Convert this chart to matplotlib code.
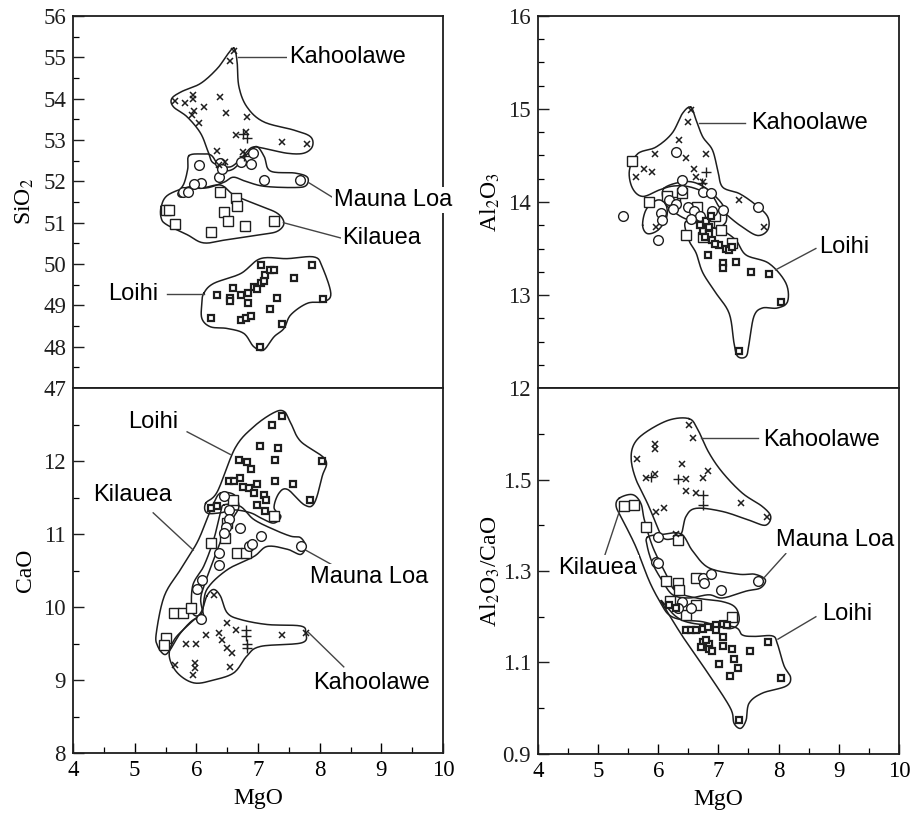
import numpy as np
import matplotlib
matplotlib.use("Agg")
import matplotlib.pyplot as plt
from matplotlib.ticker import MultipleLocator, FixedLocator

plt.rcParams['mathtext.fontset'] = 'stix'

# ---------------- DATA (MgO, oxide) ----------------
# Panel 1: SiO2 vs MgO
sio2_kah_x = [(6.61,55.15),(6.55,54.9),(5.65,53.95),(5.81,53.9),(5.95,54.1),(5.95,54.0),(5.96,53.7),
              (5.93,53.6),(6.13,53.8),(6.05,53.4),(6.39,54.03),(6.48,53.65),(6.82,53.55),(6.64,53.12),
              (6.8,53.2),(7.39,52.96),(7.8,52.9),(6.33,52.74),(6.47,52.47),(6.76,52.7),(6.36,52.4)]
sio2_kah_plus = [(6.82,53.05),(6.75,53.15),(6.78,52.62)]
sio2_ml = [(6.04,52.4),(6.39,52.44),(6.36,52.11),(6.72,52.47),(6.88,52.43),(6.92,52.68),(7.1,52.03),
           (7.68,52.03),(6.07,51.97),(5.96,51.93),(5.78,51.75),(5.87,51.75),(6.42,52.3)]
sio2_kil = [(5.5,51.3),(5.55,51.3),(5.65,50.97),(6.23,50.78),(6.39,51.73),(6.45,51.25),(6.51,51.03),
            (6.65,51.6),(6.66,51.4),(6.79,50.92),(7.26,51.05)]
sio2_loihi = [(6.33,49.25),(6.23,48.7),(6.55,49.17),(6.6,49.43),(6.72,49.25),(6.84,49.29),(6.84,49.06),
              (6.93,49.45),(7.04,49.53),(7.1,49.6),(7.12,49.73),(7.05,49.97),(7.19,49.85),(7.26,49.85),
              (6.72,48.65),(6.8,48.7),(6.88,48.75),(7.3,49.18),(7.2,48.9),(7.39,48.56),(7.03,48.0),
              (7.58,49.67),(7.87,49.98),(8.06,49.15),(6.98,49.4),(6.54,49.1)]
sio2_fields = {
    'Kahoolawe': [(6.61,55.22),(6.66,54.9),(6.69,54.29),(6.82,53.8),(7.09,53.44),(7.58,53.24),(7.85,53.08),
                  (7.88,52.84),(7.74,52.68),(7.47,52.68),(7.09,52.8),(6.9,52.82),(6.75,52.6),(6.55,52.35),
                  (6.28,52.44),(6.2,52.68),(6.07,53.16),(5.85,53.56),(5.63,53.8),(5.6,54.0),(5.76,54.17),
                  (6.07,54.37),(6.34,54.73),(6.5,55.06)],
    'Mauna Loa': [(5.88,52.62),(6.1,52.66),(6.25,52.62),(6.4,52.3),(6.6,52.3),(6.85,52.7),(6.98,52.84),
                  (7.1,52.6),(7.2,52.25),(7.6,52.2),(7.8,52.1),(7.78,51.9),(7.6,51.85),(7.1,51.88),
                  (6.8,52.0),(6.6,52.1),(6.45,51.98),(6.2,51.85),(5.95,51.82),(5.78,51.62),(5.7,51.7),
                  (5.8,51.95),(5.86,52.3)],
    'Kilauea': [(5.43,51.39),(5.54,51.67),(5.89,51.87),(6.07,51.83),(6.39,51.91),(6.61,51.67),(6.99,51.43),
                (7.31,51.23),(7.42,50.99),(7.31,50.79),(7.04,50.71),(6.5,50.59),(6.12,50.51),(5.85,50.71),
                (5.52,50.95),(5.43,51.11)],
    'Loihi': [(6.12,49.29),(6.28,49.53),(6.72,49.77),(7.04,50.13),(7.47,50.13),(7.91,50.17),(8.04,49.93),
              (8.18,49.29),(8.07,49.09),(7.8,49.05),(7.53,48.77),(7.42,48.44),(7.26,48.24),(7.09,47.92),
              (6.93,48.0),(6.77,48.32),(6.5,48.44),(6.23,48.48),(6.09,48.68),(6.09,49.05)],
}
sio2_labels = [("Kahoolawe", (7.5,55.0), (6.68,55.0), (7.45,55.0), 'left'),
               ("Mauna Loa", (8.23,51.55), (7.82,51.97), (8.2,51.62), 'left'),
               ("Kilauea", (8.37,50.63), (7.41,51.0), (8.34,50.63), 'left'),
               ("Loihi", (5.38,49.28), (5.53,49.27), (6.12,49.27), 'right')]

# Panel 2: CaO vs MgO
cao_loihi = [(7.39,12.61),(7.23,12.5),(7.03,12.2),(7.32,12.18),(7.27,12.02),(8.04,12.0),(6.69,12.01),
             (6.82,11.98),(6.89,11.89),(6.71,11.77),(6.75,11.65),(6.53,11.72),(6.61,11.72),(6.85,11.63),
             (6.99,11.68),(6.93,11.56),(7.27,11.72),(7.57,11.68),(7.09,11.54),(7.13,11.47),(6.99,11.4),
             (7.11,11.31),(7.85,11.46),(6.23,11.36),(6.34,11.38)]
cao_kil = [(7.26,11.24),(6.23,10.87),(6.66,10.74),(6.8,10.74),(5.63,9.92),(5.79,9.92),(5.92,9.99),
           (5.5,9.58),(5.48,9.48),(6.59,11.47),(6.5,11.15),(6.47,10.95)]
cao_ml = [(6.45,11.52),(6.53,11.33),(6.53,11.2),(6.48,11.1),(6.45,11.01),(6.71,11.08),(6.85,10.83),
          (6.9,10.86),(7.04,10.97),(7.69,10.83),(6.36,10.74),(6.36,10.58),(6.09,10.37),(6.01,10.24),
          (6.07,9.84)]
cao_kah_x = [(6.28,10.17),(6.5,9.78),(6.64,9.69),(6.36,9.64),(6.15,9.62),(5.84,9.5),(6.0,9.5),(6.41,9.55),
             (6.5,9.44),(6.58,9.37),(5.66,9.21),(5.97,9.23),(5.97,9.16),(5.94,9.07),(6.54,9.18),
             (7.39,9.61),(7.77,9.64)]
cao_kah_plus = [(6.8,9.69),(6.82,9.5),(6.8,9.6),(6.82,9.44)]
cao_fields = {
    'Loihi': [(6.15,11.42),(6.34,11.58),(6.63,12.18),(6.93,12.47),(7.25,12.66),(7.42,12.68),(7.53,12.52),
              (7.69,12.27),(8.09,12.02),(8.04,11.79),(7.91,11.42),(7.75,11.4),(7.48,11.61),(7.34,11.56),
              (7.26,11.36),(7.37,11.24),(7.26,11.15),(7.09,11.2),(6.88,11.29),(6.61,11.33),(6.39,11.29),
              (6.17,11.29)],
    'Kilauea': [(6.39,11.56),(6.61,11.54),(6.69,11.38),(6.61,11.24),(6.45,11.01),(6.28,10.65),(6.14,10.33),
                (6.07,10.1),(6.12,9.83),(5.96,9.83),(5.74,9.64),(5.58,9.42),(5.48,9.35),(5.37,9.47),
                (5.35,9.64),(5.48,10.15),(5.74,10.51),(6.01,10.88),(6.17,11.2),(6.28,11.42)],
    'Mauna Loa': [(6.45,11.4),(6.71,11.38),(6.93,11.2),(7.26,11.06),(7.53,10.97),(7.69,10.95),(7.77,10.83),
                  (7.69,10.72),(7.48,10.79),(7.15,10.83),(6.93,10.69),(6.5,10.51),(6.17,10.24),(6.09,9.92),
                  (5.94,9.92),(5.94,10.29),(6.12,10.56),(6.28,10.92),(6.39,11.29)],
    'Kahoolawe': [(6.17,10.15),(6.28,10.24),(6.39,10.15),(6.5,9.92),(6.71,9.83),(7.15,9.76),(7.69,9.74),
                  (7.77,9.65),(7.71,9.51),(7.04,9.46),(6.82,9.33),(6.61,9.1),(6.28,9.0),(5.96,8.96),
                  (5.69,9.1),(5.56,9.33),(5.64,9.55),(5.85,9.74),(6.07,9.92)],
}
cao_labels = [("Loihi", (4.89,12.53), (5.85,12.4), (6.55,12.09), 'left'),
              ("Kilauea", (4.33,11.54), (5.3,11.29), (5.95,10.78), 'left'),
              ("Mauna Loa", (7.85,10.41), (7.77,10.78), (8.26,10.55), 'left'),
              ("Kahoolawe", (7.9,8.96), (7.82,9.65), (8.39,9.18), 'left')]

# Panel 3: Al2O3 vs MgO
al_kah_x = [(6.54,14.99),(6.5,14.86),(6.34,14.67),(5.94,14.52),(6.46,14.47),(6.79,14.52),(5.77,14.36),
            (5.9,14.32),(5.63,14.27),(6.6,14.36),(6.63,14.27),(6.74,14.22),(7.35,14.02),(7.76,13.73),
            (5.96,13.73)]
al_kah_plus = [(6.79,14.32),(6.72,14.2)]
al_ml = [(6.29,14.54),(5.42,13.85),(5.99,13.59),(6.04,13.88),(6.07,13.81),(6.18,14.02),(6.4,14.24),
         (6.4,14.13),(6.74,14.11),(6.87,14.1),(7.07,13.91),(7.65,13.95),(6.5,13.95),(6.6,13.9),(6.3,13.98),
         (6.7,13.85),(6.55,13.82),(6.9,13.9),(6.25,13.92)]
al_kil = [(5.57,14.44),(5.85,14.0),(6.15,14.06),(6.27,14.0),(6.46,13.64),(6.74,13.62),(7.23,13.56),
          (6.4,14.1),(6.85,13.78),(6.95,13.85),(6.65,13.95),(7.05,13.7)]
al_loihi = [(6.82,13.43),(6.74,13.69),(6.85,13.73),(6.8,13.8),(6.85,13.66),(6.9,13.59),(7.01,13.54),
            (7.12,13.5),(7.18,13.48),(7.07,13.34),(7.07,13.29),(7.29,13.36),(7.54,13.25),(7.84,13.23),
            (8.04,12.92),(7.35,12.4),(6.78,13.62),(6.95,13.55),(6.7,13.75),(6.88,13.85),(7.22,13.52)]
al_fields = {
    'Kahoolawe': [(6.54,15.02),(6.63,14.88),(6.74,14.7),(6.9,14.56),(6.99,14.34),(7.07,14.16),(7.35,14.09),
                  (7.62,13.97),(7.82,13.84),(7.82,13.7),(7.65,13.64),(7.4,13.73),(7.18,13.84),(7.01,13.95),
                  (6.9,14.06),(6.68,14.13),(6.46,14.17),(6.23,14.17),(6.02,14.13),(5.74,14.06),(5.57,14.15),
                  (5.52,14.34),(5.66,14.52),(5.96,14.59),(6.23,14.74),(6.4,14.95)],
    'Kilauea': [(5.74,13.75),(5.8,13.92),(5.98,14.02),(6.12,13.98),(6.14,13.84),(6.0,13.7),(5.82,13.66)],
    'Mauna Loa': [(6.1,14.15),(6.46,14.22),(6.74,14.17),(7.01,14.02),(7.12,13.9),(7.12,13.78),(6.95,13.72),
                  (6.7,13.78),(6.45,13.82),(6.25,13.9),(6.1,14.0)],
    'Loihi': [(6.46,13.79),(6.85,13.73),(7.07,13.69),(7.29,13.59),(7.46,13.43),(7.84,13.34),(8.12,13.13),
              (8.15,12.93),(7.98,12.86),(7.73,12.86),(7.59,12.77),(7.51,12.48),(7.46,12.34),(7.32,12.34),
              (7.26,12.48),(7.18,12.8),(6.96,13.02),(6.74,13.24),(6.63,13.45),(6.51,13.59)],
}
al_labels = [("Kahoolawe", (7.54,14.85), (6.67,14.85), (7.45,14.85), 'left'),
             ("Loihi", (8.67,13.52), (7.95,13.27), (8.62,13.5), 'left')]

# Panel 4: Al2O3/CaO vs MgO
ratio_kah_x = [(6.51,1.619),(6.58,1.59),(5.94,1.578),(5.95,1.567),(5.65,1.544),(6.4,1.533),(5.8,1.504),
               (5.95,1.511),(6.46,1.502),(6.74,1.504),(6.82,1.519),(6.46,1.474),(6.63,1.47),(5.96,1.43),
               (6.1,1.437),(7.37,1.448),(7.8,1.417),(6.29,1.381)]
ratio_kah_plus = [(6.32,1.502),(6.74,1.467),(6.74,1.445),(5.88,1.506)]
ratio_kil = [(5.43,1.442),(5.59,1.444),(5.8,1.396),(6.32,1.368),(6.13,1.278),(6.32,1.274),(6.63,1.285),
             (6.63,1.226),(6.46,1.204),(7.23,1.2),(6.35,1.259),(6.2,1.235)]
ratio_ml = [(5.99,1.374),(5.96,1.319),(6.0,1.318),(6.74,1.285),(6.87,1.293),(6.76,1.274),(7.04,1.259),
            (7.65,1.278),(6.4,1.233),(6.32,1.219),(6.55,1.22)]
ratio_loihi = [(6.18,1.226),(6.29,1.219),(6.46,1.17),(6.54,1.17),(6.63,1.17),(6.74,1.174),(6.82,1.178),
               (6.96,1.181),(7.07,1.185),(7.15,1.181),(6.96,1.17),(6.74,1.144),(6.85,1.141),(6.71,1.133),
               (6.85,1.13),(7.07,1.155),(7.07,1.137),(7.23,1.13),(7.52,1.126),(7.82,1.144),(7.01,1.096),
               (7.26,1.107),(7.32,1.089),(7.2,1.07),(8.04,1.067),(7.35,0.974),(6.8,1.15),(6.9,1.125)]
ratio_fields = {
    'Kahoolawe': [(6.51,1.633),(6.65,1.611),(6.84,1.559),(7.07,1.515),(7.4,1.47),(7.73,1.441),(7.87,1.419),
                  (7.78,1.4),(7.51,1.411),(7.07,1.43),(6.63,1.437),(6.46,1.419),(6.38,1.381),(6.22,1.37),
                  (6.07,1.374),(5.94,1.411),(5.82,1.448),(5.63,1.5),(5.55,1.544),(5.6,1.578),(5.8,1.604),
                  (6.18,1.63)],
    'Mauna Loa': [(5.82,1.374),(6.07,1.38),(6.38,1.381),(6.57,1.344),(6.84,1.307),(7.33,1.293),(7.6,1.293),
                  (7.78,1.281),(7.7,1.263),(7.46,1.256),(7.07,1.241),(6.84,1.248),(6.51,1.241),(6.24,1.248),
                  (6.07,1.278),(5.91,1.315),(5.82,1.352)],
    'Kilauea': [(5.35,1.459),(5.57,1.467),(5.71,1.448),(5.77,1.411),(5.91,1.352),(6.13,1.293),(6.29,1.256),
                (6.63,1.241),(7.07,1.233),(7.29,1.219),(7.34,1.189),(7.18,1.174),(6.74,1.189),(6.4,1.193),
                (6.18,1.204),(6.04,1.23),(5.85,1.278),(5.63,1.352),(5.41,1.411),(5.3,1.441)],
    'Loihi': [(6.05,1.235),(6.3,1.2),(6.6,1.185),(7.25,1.178),(7.4,1.16),(7.6,1.157),(7.9,1.158),(7.98,1.141),
              (8.09,1.093),(8.2,1.067),(8.12,1.048),(7.73,1.033),(7.51,1.011),(7.46,0.974),(7.37,0.956),
              (7.26,0.967),(7.2,1.0),(6.86,1.07),(6.47,1.144),(6.2,1.2)],
}
ratio_labels = [("Kahoolawe", (7.75,1.587), (6.71,1.59), (7.65,1.59), 'left'),
                ("Mauna Loa", (7.95,1.367), (7.75,1.284), (8.12,1.338), 'left'),
                ("Loihi", (8.73,1.207), (7.99,1.151), (8.62,1.2), 'left'),
                ("Kilauea", (4.33,1.307), (5.35,1.429), (5.08,1.322), 'left')]

x_ticks = [4, 5, 6, 7, 8, 9, 10]

# ---------------- helpers ----------------
INK = '#1e1e1e'
SERIF = 'Liberation Serif'
SANS = 'Liberation Sans'


def smooth_closed(pts, n=14):
    P = np.asarray(pts, float)
    N = len(P)
    t = np.linspace(0, 1, n, endpoint=False)[:, None]
    segs = []
    for i in range(N):
        p0, p1, p2, p3 = P[i - 1], P[i], P[(i + 1) % N], P[(i + 2) % N]
        seg = 0.5 * (2 * p1 + (-p0 + p2) * t + (2 * p0 - 5 * p1 + 4 * p2 - p3) * t ** 2
                     + (-p0 + 3 * p1 - 3 * p2 + p3) * t ** 3)
        segs.append(seg)
    segs.append(segs[0][:1])
    out = np.vstack(segs)
    return out[:, 0], out[:, 1]


def pts(ax, data, **kw):
    a = np.asarray(data)
    ax.plot(a[:, 0], a[:, 1], linestyle='none', zorder=3, **kw)


def draw_panel(ax, kah_x, kah_plus, ml, kil, loihi, fields, labels):
    for name, poly in fields.items():
        xs, ys = smooth_closed(poly)
        ax.plot(xs, ys, color=INK, lw=1.1, zorder=2)
    pts(ax, kil, marker='s', ms=7.5, mfc='white', mec=INK, mew=1.0)
    pts(ax, ml, marker='o', ms=7, mfc='white', mec=INK, mew=1.0)
    pts(ax, loihi, marker='s', ms=4.3, mfc='white', mec=INK, mew=1.6)
    pts(ax, kah_x, marker='x', ms=4.5, mec=INK, mew=1.1)
    if kah_plus:
        pts(ax, kah_plus, marker='+', ms=6.5, mec=INK, mew=1.0)
    for text, txy, l0, l1, ha in labels:
        ax.plot([l0[0], l1[0]], [l0[1], l1[1]], color='#444444', lw=1.0, zorder=2, clip_on=False)
        ax.text(txy[0], txy[1], text, ha=ha, va='center', fontsize=17, family=SANS, color='black',
                zorder=6, clip_on=False,
                bbox=dict(boxstyle='square,pad=0.08', fc='white', ec='none'))


def style(ax, ylim, major, minor, ylabels_at, bottom):
    ax.set_xlim(4, 10)
    ax.set_ylim(*ylim)
    ax.yaxis.set_major_locator(FixedLocator(major))
    ax.yaxis.set_minor_locator(FixedLocator(minor))
    ax.set_yticklabels(ylabels_at, family=SERIF, fontsize=16.5)
    ax.tick_params(axis='y', which='major', direction='in', length=8, width=1.0, pad=5, colors=INK,
                   right=False)
    ax.tick_params(axis='y', which='minor', direction='in', length=4.5, width=0.9, right=False)
    if bottom:
        ax.xaxis.set_major_locator(FixedLocator(x_ticks))
        ax.xaxis.set_minor_locator(MultipleLocator(0.5))
        ax.set_xticklabels([str(v) for v in x_ticks], family=SERIF, fontsize=16.5)
        ax.tick_params(axis='x', which='major', direction='in', length=7, width=1.0, pad=5, top=False)
        ax.tick_params(axis='x', which='minor', direction='in', length=4, width=0.9, top=False)
        ax.set_xlabel('MgO', family=SERIF, fontsize=17)
        ax.xaxis.set_label_coords(0.5, -0.095)
    else:
        ax.tick_params(axis='x', which='both', bottom=False, top=False, labelbottom=False)
    for s in ax.spines.values():
        s.set_linewidth(1.3)
        s.set_color(INK)


fig = plt.figure(figsize=(9.16, 8.16), dpi=100)
fig.patch.set_facecolor('white')

axL1 = fig.add_axes([0.0797, 0.5245, 0.404, 0.4559])
axL2 = fig.add_axes([0.0797, 0.0772, 0.404, 0.4473])
axR1 = fig.add_axes([0.5873, 0.5245, 0.394, 0.4559])
axR2 = fig.add_axes([0.5873, 0.0760, 0.394, 0.4485])

draw_panel(axL1, sio2_kah_x, sio2_kah_plus, sio2_ml, sio2_kil, sio2_loihi, sio2_fields, sio2_labels)
draw_panel(axL2, cao_kah_x, cao_kah_plus, cao_ml, cao_kil, cao_loihi, cao_fields, cao_labels)
draw_panel(axR1, al_kah_x, al_kah_plus, al_ml, al_kil, al_loihi, al_fields, al_labels)
draw_panel(axR2, ratio_kah_x, ratio_kah_plus, ratio_ml, ratio_kil, ratio_loihi, ratio_fields, ratio_labels)

sio2_ticks = list(range(47, 57))
style(axL1, (47, 56), sio2_ticks, [v + 0.5 for v in sio2_ticks[:-1]], [str(v) for v in sio2_ticks], False)
cao_ticks = [8, 9, 10, 11, 12]
style(axL2, (8, 13), cao_ticks, [8.5, 9.5, 10.5, 11.5, 12.5], [str(v) for v in cao_ticks], True)
al_ticks = [12, 13, 14, 15, 16]
style(axR1, (12, 16), al_ticks, [12.25, 12.5, 12.75, 13.25, 13.5, 13.75, 14.25, 14.5, 14.75, 15.25, 15.5, 15.75],
      [str(v) for v in al_ticks], False)
ratio_ticks = [0.9, 1.1, 1.3, 1.5]
style(axR2, (0.9, 1.7), ratio_ticks, [1.0, 1.2, 1.4, 1.6], ['0.9', '1.1', '1.3', '1.5'], True)

axL1.set_ylabel('SiO$_2$', family=SERIF, fontsize=17)
axL2.set_ylabel('CaO', family=SERIF, fontsize=17)
axR1.set_ylabel('Al$_2$O$_3$', family=SERIF, fontsize=17)
axR2.set_ylabel('Al$_2$O$_3$/CaO', family=SERIF, fontsize=17)
for ax in (axL1, axL2, axR1, axR2):
    ax.yaxis.set_label_coords(-0.10, 0.5)

fig.savefig('out.png', dpi=100, facecolor='white')
